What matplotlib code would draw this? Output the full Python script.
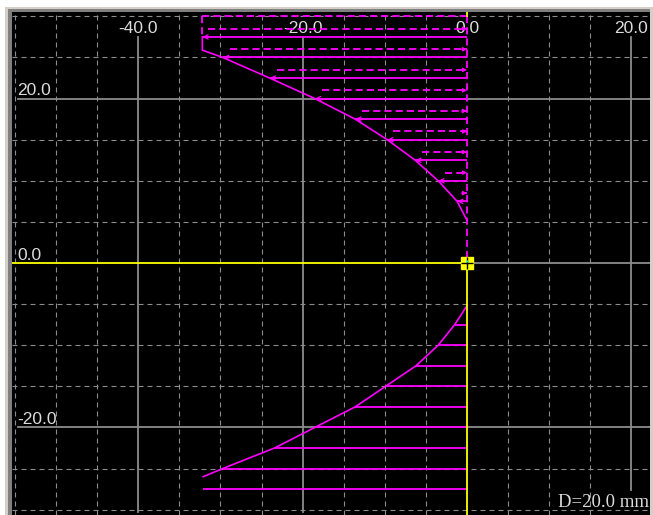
import matplotlib
matplotlib.use("Agg")
import matplotlib.pyplot as plt
from matplotlib.patches import Rectangle

# values (mm)
# upper profile: solid lines from the curve to the axis
upper_y = [27.5, 25.0, 22.5, 20.0, 17.5, 15.0, 12.5, 10.0, 7.5]
upper_x = [-32.2, -29.7, -24.0, -18.5, -13.6, -9.7, -6.3, -3.5, -1.2]
upper_curve_x = [-32.2, -32.2, -29.7, -24.0, -18.5, -13.6, -9.7, -6.3, -3.5, -1.2, 0.0]
upper_curve_y = [27.5, 25.9, 25.0, 22.5, 20.0, 17.5, 15.0, 12.5, 10.0, 7.5, 5.2]

# upper dashed lines
dash_y = [30.0, 28.5, 26.0, 23.5, 21.0, 18.5, 16.0, 13.5, 11.0, 8.5]
dash_x = [-32.2, -31.5, -28.8, -23.1, -17.6, -12.8, -9.0, -5.5, -2.7, -0.5]

# lower profile
lower_y = [-7.5, -10.0, -12.5, -15.0, -17.5, -20.0, -22.5, -25.0, -27.5]
lower_x = [-1.5, -3.5, -6.2, -9.9, -13.6, -18.5, -23.4, -29.7, -32.1]
lower_curve_x = [0.0, -1.5, -3.5, -6.2, -9.9, -13.6, -18.5, -23.4, -29.7, -32.1]
lower_curve_y = [-5.2, -7.5, -10.0, -12.5, -15.0, -17.5, -20.0, -22.5, -25.0, -26.0]

x_labels = [-40.0, -20.0, 0.0, 20.0]
y_labels = [20.0, 0.0, -20.0]
grid_x = [-55, -50, -45, -35, -30, -25, -15, -10, -5, 5, 10, 15]
grid_y = [-30, -25, -15, -10, -5, 5, 10, 15, 25, 30]
diameter_text = "D=20.0 mm"

W, H = 653, 515
MAG = '#ff00ff'
YEL = '#ffff00'
GRAY = '#8c8c8c'
TXT = '#dcdcdc'

fig = plt.figure(figsize=(W / 100, H / 100), dpi=100)
fig.patch.set_facecolor('white')

# window frame round the black canvas
fig.add_artist(Rectangle((5 / W, 0), 1, (H - 7) / H, transform=fig.transFigure,
                         facecolor='#d4d0c8', edgecolor='none', zorder=-10))
fig.add_artist(Rectangle((8 / W, 0), 642 / W, (H - 9) / H, transform=fig.transFigure,
                         facecolor='#808080', edgecolor='none', zorder=-9))

ax = fig.add_axes([12 / W, 0, 638 / W, (H - 12) / H])
ax.set_facecolor('black')
scale = 8.22  # px per mm
ax.set_xlim(-455 / scale, 183 / scale)
ax.set_ylim(-252 / scale, 251 / scale)
ax.set_xticks([])
ax.set_yticks([])
for s in ax.spines.values():
    s.set_visible(False)

# dashed grid every 5 mm
for gx in grid_x:
    ax.axvline(gx, color=GRAY, lw=0.8, dashes=(4.5, 3.6), zorder=1)
for gy in grid_y:
    ax.axhline(gy, color=GRAY, lw=0.8, dashes=(4.5, 3.6), zorder=1)

# solid grid every 20 mm
for gx in [-40, -20]:
    ax.plot([gx, gx], [27.5, -30.3], color=GRAY, lw=1.3, zorder=1.5)
ax.plot([20, 20], [27.5, -27.6], color=GRAY, lw=1.3, zorder=1.5)
for gy in [20, -20]:
    ax.plot([-54.6, 30], [gy, gy], color=GRAY, lw=1.3, zorder=1.5)
ax.plot([0, 30], [0, 0], color=GRAY, lw=1.3, zorder=1.5)

# tick labels
for v in x_labels:
    ax.text(v, 28.0, f"{v:.1f}", color=TXT, ha='center', va='baseline',
            fontsize=12.5, family='Liberation Sans', zorder=2)
for v in y_labels:
    ax.text(-54.7, v + 0.4, f"{v:.1f}", color=TXT, ha='left', va='baseline',
            fontsize=12.5, family='Liberation Sans', zorder=2)
ax.text(11.1, -29.7, diameter_text, color=TXT, ha='left', va='baseline',
        fontsize=13.5, family='Liberation Serif', zorder=2)

# upper dashed set
ax.hlines(dash_y, dash_x, 0, colors=MAG, lw=1.3, linestyles=(0, (4, 2.2)), zorder=3)
ax.plot([dash_x[0], dash_x[0]], [dash_y[0], upper_y[0]], color=MAG, lw=1.3, dashes=(4, 2.2), zorder=3)
ax.plot([0, 0], [dash_y[0], 0], color=MAG, lw=1.3, dashes=(4, 2.2), zorder=3)
for xs, ys in zip(dash_x[1:], dash_y[1:]):
    ax.annotate('', xy=(0, ys), xytext=(-0.7, ys),
                arrowprops=dict(arrowstyle='-|>,head_length=0.4,head_width=0.2',
                                color=MAG, lw=0.8, mutation_scale=6, shrinkA=0, shrinkB=0),
                zorder=3)

# upper solid set
ax.plot(upper_curve_x, upper_curve_y, color=MAG, lw=1.2, zorder=3)
ax.hlines(upper_y, upper_x, 0, colors=MAG, lw=1.3, zorder=3)
for xs, ys in zip(upper_x, upper_y):
    ax.annotate('', xy=(xs, ys), xytext=(xs + 0.8, ys),
                arrowprops=dict(arrowstyle='->,head_length=0.45,head_width=0.22',
                                color=MAG, lw=0.9, mutation_scale=7, shrinkA=0, shrinkB=0),
                zorder=3)

# lower solid set
ax.plot(lower_curve_x, lower_curve_y, color=MAG, lw=1.2, zorder=3)
ax.hlines(lower_y, lower_x, 0, colors=MAG, lw=1.3, zorder=3)

# yellow axes
ax.plot([-60, 0], [0, 0], color=YEL, lw=1.3, zorder=4)
ax.plot([0, 0], [0, -40], color=YEL, lw=1.3, zorder=4)
ax.plot([0, 0], [30.0, 40], color=YEL, lw=1.3, zorder=4)

# origin marker
ax.plot([0], [0], marker='s', ms=8, color=YEL, mec=YEL, zorder=5)
ax.plot([0], [0], marker='+', ms=8, mew=1.0, color='black', zorder=6)
ax.plot([0], [0.25], marker='s', ms=1.5, color='#00ffff', mec='none', zorder=7)

fig.savefig('out.png', dpi=100, facecolor=fig.get_facecolor())
